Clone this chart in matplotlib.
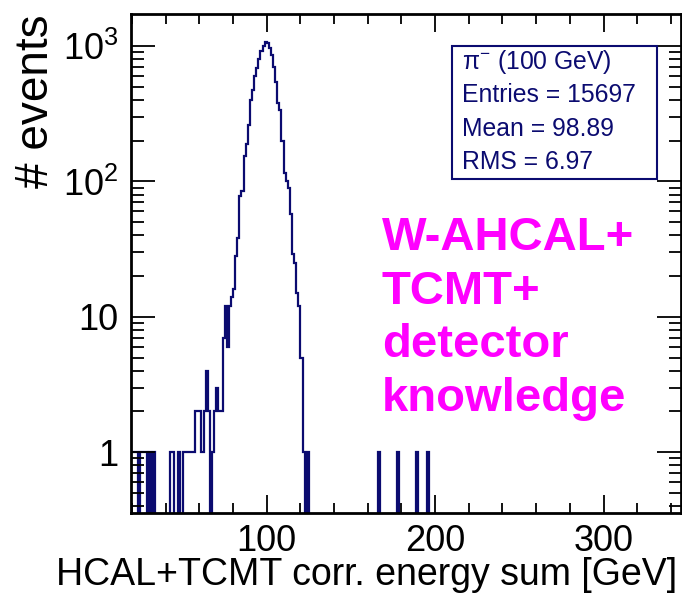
import matplotlib
matplotlib.use('Agg')
import matplotlib.pyplot as plt
import numpy as np
from matplotlib.patches import Rectangle

plt.rcParams['font.family'] = ['Liberation Sans', 'DejaVu Sans']
plt.rcParams['mathtext.fontset'] = 'custom'
plt.rcParams['mathtext.rm'] = 'Liberation Sans'
plt.rcParams['mathtext.it'] = 'Liberation Sans:italic'

# histogram binning [GeV]
x_lo, x_hi, bin_w = 20.0, 345.0, 1.25

# counts of the main peak, first bin starts at 56.25 GeV
peak_start = 56.25
peak_counts = [1, 2, 2, 2, 1, 2, 4, 2, 0, 1, 2, 3, 2, 2,
               7, 12, 6, 12, 14, 16, 28, 38, 78, 85, 154, 190, 260, 400,
               470, 600, 690, 800, 925, 1009, 1067, 1050, 970, 860, 700, 540,
               380, 335, 200, 115, 101, 90, 57, 29, 25, 15, 12, 5, 1, 0, 1]
# single-entry bins in the low and high tails (bin centres)
tail_low = [20.6, 21.9, 23.1, 25.6, 26.9, 28.1, 30.6, 33.1, 43.1, 44.4,
            48.1, 50.6, 51.9, 53.1, 54.4, 55.6]
tail_high = [166.9, 178.1, 189.4, 195.6]

stats_lines = ['π$^{-}$ (100 GeV)', 'Entries = 15697', 'Mean = 98.89', 'RMS = 6.97']
label_lines = ['W-AHCAL+', 'TCMT+', 'detector', 'knowledge']

edges = np.arange(x_lo, x_hi + bin_w / 2, bin_w)
counts = np.zeros(len(edges) - 1)
i0 = int(round((peak_start - x_lo) / bin_w))
counts[i0:i0 + len(peak_counts)] = peak_counts
for c in tail_low + tail_high:
    counts[int((c - x_lo) // bin_w)] = 1

W, H = 682, 595
fig = plt.figure(figsize=(W / 100, H / 100), dpi=100)
ax = fig.add_axes([131 / W, 1 - 513 / H, 550 / W, 499 / H])

navy = '#0b0b70'
plot_counts = np.where(counts > 0, counts, 1e-3)
ax.stairs(plot_counts, edges, color=navy, linewidth=1.6, baseline=None)

ax.set_yscale('log')
ax.set_xlim(x_lo - 0.6, x_hi + 1)
ax.set_ylim(0.355, 1727)

ax.set_xticks([100, 200, 300])
ax.set_xticks(np.arange(20, 345, 20), minor=True)
ax.set_yticks([1, 10, 100, 1000])
ax.set_yticklabels(['1', '10', '$10^{2}$', '$10^{3}$'])
ax.tick_params(which='both', direction='in', top=True, right=True, width=1.3, labelsize=26)
ax.tick_params(which='major', axis='x', length=13)
ax.tick_params(which='minor', axis='x', length=7)
ax.tick_params(which='major', axis='y', length=17)
ax.tick_params(which='minor', axis='y', length=9)
ax.tick_params(axis='x', pad=8)
ax.tick_params(axis='y', pad=9)
for s in ax.spines.values():
    s.set_linewidth(2)

fig.text(677 / W, 1 - 585 / H, 'HCAL+TCMT corr. energy sum [GeV]', ha='right', va='baseline', fontsize=27)
fig.text(36 / W, 1 - 14 / H, '# events', rotation=90, ha='center', va='top', fontsize=33)

# stats box
fig.patches.append(Rectangle((452 / W, 1 - 179 / H), 205 / W, 133 / H, transform=fig.transFigure,
                             facecolor='white', edgecolor=navy, linewidth=1.5))
for k, line in enumerate(stats_lines):
    fig.text(462 / W, 1 - (62 + 33.3 * k) / H, line, ha='left', va='center', fontsize=17.8, color=navy)

for k, line in enumerate(label_lines):
    fig.text(382 / W, 1 - (250 + 53.7 * k) / H, line, ha='left', va='baseline', fontsize=34,
             fontweight='bold', color='#ff00ff')

fig.savefig('out.png', dpi=100)
